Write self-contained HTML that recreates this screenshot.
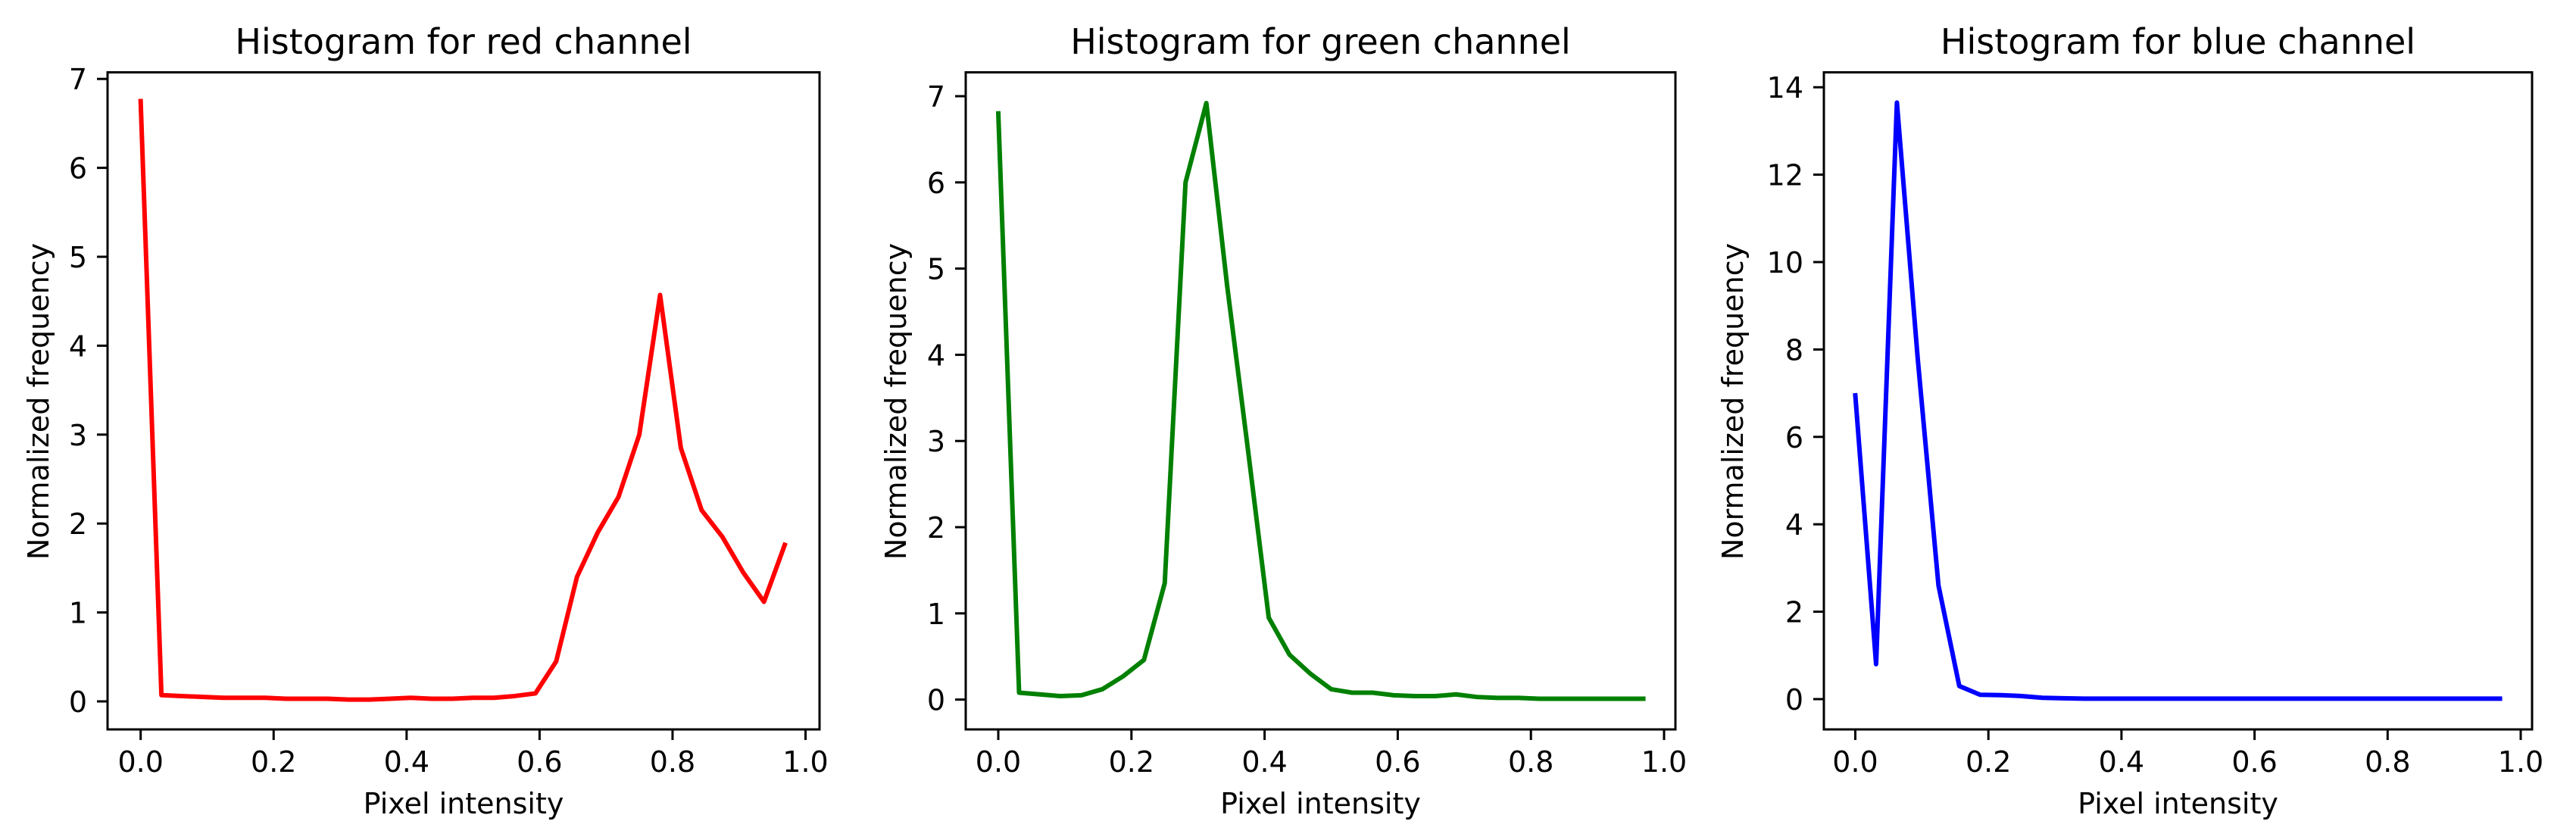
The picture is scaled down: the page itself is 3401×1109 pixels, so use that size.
<!DOCTYPE html>
<html><head><meta charset="utf-8">
<style>
html,body{margin:0;padding:0;background:#fff;}
svg{display:block;font-family:"DejaVu Sans","Liberation Sans",sans-serif;}
</style></head>
<body>
<svg id="fig" width="3401" height="1109" viewBox="0 0 3401 1109" xmlns="http://www.w3.org/2000/svg">
<rect width="3401" height="1109" fill="#fff"/>
</svg>
<script>
const xValues = [0,1,2,3,4,5,6,7,8,9,10,11,12,13,14,15,16,17,18,19,20,21,22,23,24,25,26,27,28,29,30,31].map(i=>i/32);
const redValues = [6.75,0.07,0.06,0.05,0.04,0.04,0.04,0.03,0.03,0.03,0.02,0.02,0.03,0.04,0.03,0.03,0.04,0.04,0.06,0.09,0.45,1.4,1.9,2.3,3.0,4.57,2.85,2.15,1.85,1.45,1.12,1.76];
const greenValues = [6.8,0.08,0.06,0.04,0.05,0.12,0.27,0.46,1.35,6.0,6.92,4.8,2.9,0.95,0.52,0.3,0.12,0.08,0.08,0.05,0.04,0.04,0.06,0.03,0.02,0.02,0.01,0.01,0.01,0.01,0.01,0.01];
const blueValues = [6.95,0.8,13.65,7.8,2.6,0.3,0.1,0.09,0.07,0.03,0.02,0.01,0.01,0.01,0.01,0.01,0.01,0.01,0.01,0.01,0.01,0.01,0.01,0.01,0.01,0.01,0.01,0.01,0.01,0.01,0.01,0.01];
const xTicks = [0,0.2,0.4,0.6,0.8,1.0];
const xTickLabels = ["0.0","0.2","0.4","0.6","0.8","1.0"];
const redYTicks = [0,1,2,3,4,5,6,7];
const greenYTicks = [0,1,2,3,4,5,6,7];
const blueYTicks = [0,2,4,6,8,10,12,14];
const titles = ["Histogram for red channel","Histogram for green channel","Histogram for blue channel"];

const NS="http://www.w3.org/2000/svg";
const svg=document.getElementById('fig');
function mk(tag,attrs,parent){const e=document.createElementNS(NS,tag);for(const k in attrs)e.setAttribute(k,attrs[k]);(parent||svg).appendChild(e);return e;}

const panels=[
 {name:'red',vals:redValues,color:'#ff0000',yt:redYTicks,L:142,R:1082,x0:185.7,x1:1063.5,y0:926,yUnit:117.4,ylabX:51,title:titles[0]},
 {name:'green',vals:greenValues,color:'#008000',yt:greenYTicks,L:1275,R:2212,x0:1318,x1:2197,y0:923.6,yUnit:113.8,ylabX:1183,title:titles[1]},
 {name:'blue',vals:blueValues,color:'#0000ff',yt:blueYTicks,L:2408,R:3343,x0:2449.5,x1:3328,y0:923,yUnit:57.7,ylabX:2288,title:titles[2]}
];
const T=95.5,B=963;
panels.forEach(p=>{
  const g=mk('g',{});
  
  
  const xs=v=>p.x0+(p.x1-p.x0)*v;
  const ys=v=>p.y0-p.yUnit*v;
  // line
  const d=p.vals.map((v,i)=>(i?'L':'M')+xs(xValues[i]).toFixed(2)+' '+ys(v).toFixed(2)).join(' ');
  const line=mk('path',{d:d,fill:'none',stroke:p.color,'stroke-width':6,'stroke-linejoin':'round','stroke-linecap':'square'},g);
  
  
  // frame
  const fr=mk('rect',{x:p.L,y:T,width:p.R-p.L,height:B-T,fill:'none',stroke:'#000','stroke-width':3},g);
  
  
  // x ticks
  xTicks.forEach((t,i)=>{
    const x=xs(t);
    const tk=mk('line',{x1:x,y1:B,x2:x,y2:B+14,stroke:'#000','stroke-width':3},g);
    
    
    const tl=mk('text',{x:x,y:1019,'font-size':38,'text-anchor':'middle',fill:'#000'},g);
    tl.textContent=xTickLabels[i];
    
    
  });
  p.yt.forEach(t=>{
    const y=ys(t);
    const tk=mk('line',{x1:p.L-14,y1:y,x2:p.L,y2:y,stroke:'#000','stroke-width':3},g);
    
    
    const tl=mk('text',{x:p.L-27,y:y+14,'font-size':38,'text-anchor':'end',fill:'#000'},g);
    tl.textContent=String(t);
    
    
  });
  const cx=(p.L+p.R)/2;
  const ti=mk('text',{x:cx,y:71,'font-size':46,'text-anchor':'middle',fill:'#000'},g);
  ti.textContent=p.title;
  
  
  const xl=mk('text',{x:cx,y:1074,'font-size':38,'text-anchor':'middle',fill:'#000'},g);
  xl.textContent='Pixel intensity';
  
  
  const yl=mk('text',{x:0,y:0,'font-size':38,'text-anchor':'middle',fill:'#000',transform:'translate('+(p.ylabX+13)+',530) rotate(-90)'},g);
  yl.textContent='Normalized frequency';
  
  
});
</script>
</body></html>
